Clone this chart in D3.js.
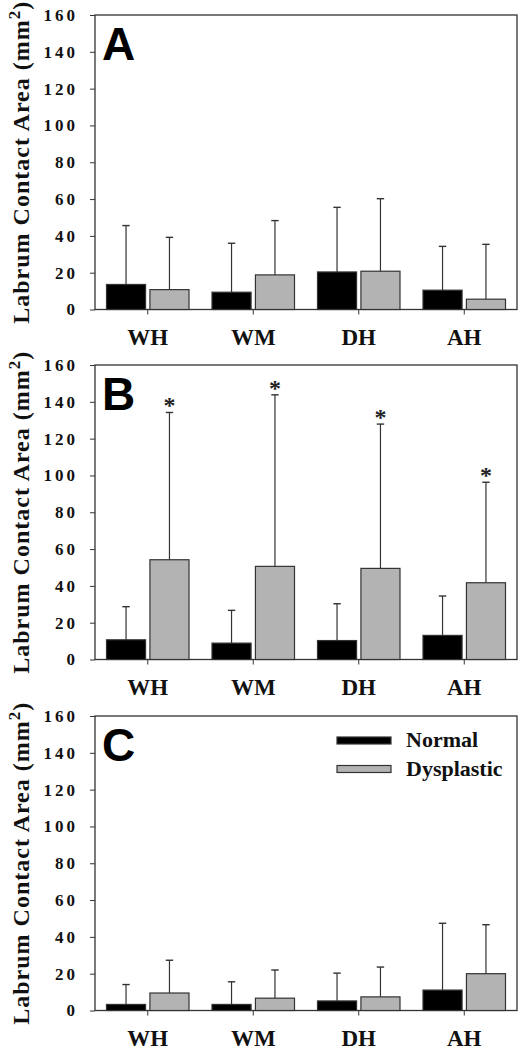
<!DOCTYPE html>
<html>
<head>
<meta charset="utf-8">
<script src="https://cdn.jsdelivr.net/npm/d3@7"></script>
<style>
  html, body { margin: 0; padding: 0; background: #fff; }
  svg { display: block; }
</style>
</head>
<body>
<svg id="chart" width="518" height="1050"></svg>
<script>
// ---- data ----
const categories = ["WH", "WM", "DH", "AH"];
const seriesNames = ["Normal", "Dysplastic"];
const panelLabels = ["A", "B", "C"];
const yTicks = [0, 20, 40, 60, 80, 100, 120, 140, 160];

// Panel A
const aNormalMean = [13.6, 9.4, 20.4, 10.5];
const aNormalSD   = [32.0, 26.6, 35.1, 23.8];
const aDysMean    = [10.8, 18.8, 20.8, 5.6];
const aDysSD      = [28.4, 29.5, 39.4, 29.8];
// Panel B
const bNormalMean = [10.7, 8.9, 10.3, 13.1];
const bNormalSD   = [18.0, 17.8, 20.0, 21.4];
const bDysMean    = [54.2, 50.6, 49.5, 41.7];
const bDysSD      = [80.0, 93.2, 78.4, 54.6];
// Panel C
const cNormalMean = [3.3, 3.3, 5.2, 11.1];
const cNormalSD   = [10.8, 12.3, 15.1, 36.3];
const cDysMean    = [9.5, 6.7, 7.4, 20.0];
const cDysSD      = [17.8, 15.3, 16.2, 26.6];

const bSignificant = [true, true, true, true];

const panels = [
  { label: panelLabels[0], normal: aNormalMean, normalSD: aNormalSD, dys: aDysMean, dysSD: aDysSD, sig: null, legend: false },
  { label: panelLabels[1], normal: bNormalMean, normalSD: bNormalSD, dys: bDysMean, dysSD: bDysSD, sig: bSignificant, legend: false },
  { label: panelLabels[2], normal: cNormalMean, normalSD: cNormalSD, dys: cDysMean, dysSD: cDysSD, sig: null, legend: true }
];

// ---- layout ----
const svg = d3.select("#chart");
const left = 95, right = 517;
const tops = [15, 365, 716];
const ph = 294.5;
const serif = "'Liberation Serif', 'Times New Roman', serif";
const sans = "'Liberation Sans', Arial, sans-serif";
const colors = { Normal: "#000000", Dysplastic: "#b3b3b3" };
const strokeCol = "#333333";

const x0 = d3.scaleBand().domain(categories).range([left, right]).padding(0);
const x1 = d3.scaleBand().domain(seriesNames).range([11.5, 94]).paddingInner(0.1);

panels.forEach((p, i) => {
  const top = tops[i];
  const bottom = top + ph;
  const y = d3.scaleLinear().domain([0, 160]).range([bottom, top]);
  const g = svg.append("g");

  // y axis
  const yAxis = g.append("g")
    .attr("transform", `translate(${left},0)`)
    .call(d3.axisLeft(y).tickValues(yTicks).tickSize(5).tickPadding(12));
  yAxis.attr("font-family", null);
  yAxis.select(".domain").remove();
  yAxis.selectAll(".tick line").attr("stroke", strokeCol);
  yAxis.selectAll(".tick text")
    .style("font-family", serif).style("font-weight", "bold")
    .style("font-size", "17px").style("letter-spacing", "3px")
    .attr("fill", "#111");

  // x axis
  const xAxis = g.append("g")
    .attr("transform", `translate(0,${bottom})`)
    .call(d3.axisBottom(x0).tickSize(5).tickPadding(14));
  xAxis.attr("font-family", null);
  xAxis.select(".domain").remove();
  xAxis.selectAll(".tick line").attr("stroke", strokeCol);
  xAxis.selectAll(".tick text")
    .style("font-family", serif).style("font-weight", "bold")
    .style("font-size", "23px").attr("fill", "#111");

  // frame
  g.append("rect")
    .attr("x", left).attr("y", top)
    .attr("width", right - left).attr("height", ph)
    .attr("fill", "none").attr("stroke", strokeCol).attr("stroke-width", 1.3);

  // bars
  const rows = [];
  categories.forEach((c, k) => {
    rows.push({ cat: c, s: "Normal", v: p.normal[k], sd: p.normalSD[k], sig: false });
    rows.push({ cat: c, s: "Dysplastic", v: p.dys[k], sd: p.dysSD[k], sig: p.sig ? p.sig[k] : false });
  });

  const bars = g.append("g");
  bars.selectAll("line.err").data(rows).join("line")
    .attr("class", "err")
    .attr("x1", d => x0(d.cat) + x1(d.s) + x1.bandwidth() / 2)
    .attr("x2", d => x0(d.cat) + x1(d.s) + x1.bandwidth() / 2)
    .attr("y1", d => y(d.v))
    .attr("y2", d => y(d.v + d.sd))
    .attr("stroke", strokeCol).attr("stroke-width", 1.2);
  bars.selectAll("line.cap").data(rows).join("line")
    .attr("class", "cap")
    .attr("x1", d => x0(d.cat) + x1(d.s) + x1.bandwidth() / 2 - 3.7)
    .attr("x2", d => x0(d.cat) + x1(d.s) + x1.bandwidth() / 2 + 3.7)
    .attr("y1", d => y(d.v + d.sd))
    .attr("y2", d => y(d.v + d.sd))
    .attr("stroke", strokeCol).attr("stroke-width", 1.4);
  bars.selectAll("rect").data(rows).join("rect")
    .attr("x", d => x0(d.cat) + x1(d.s))
    .attr("width", x1.bandwidth())
    .attr("y", d => y(d.v))
    .attr("height", d => y(0) - y(d.v))
    .attr("fill", d => colors[d.s])
    .attr("stroke", strokeCol).attr("stroke-width", 1.2);

  // significance asterisks
  bars.selectAll("text.sig").data(rows.filter(d => d.sig)).join("text")
    .attr("class", "sig")
    .attr("x", d => x0(d.cat) + x1(d.s) + x1.bandwidth() / 2)
    .attr("y", d => y(d.v + d.sd) + 1)
    .attr("text-anchor", "middle")
    .style("font-family", serif).style("font-weight", "bold")
    .style("font-size", "24px").attr("fill", "#222")
    .text("*");

  // panel letter
  g.append("text")
    .attr("x", left + 7).attr("y", top + 45)
    .style("font-family", sans).style("font-weight", "bold")
    .style("font-size", "46px").attr("fill", "#000")
    .text(p.label);

  // y title
  const yt = g.append("text")
    .attr("transform", `translate(29,${(top + bottom) / 2}) rotate(-90)`)
    .attr("text-anchor", "middle")
    .style("font-family", serif).style("font-weight", "bold")
    .style("font-size", "24px").style("letter-spacing", "1px")
    .attr("fill", "#111");
  yt.append("tspan").text("Labrum Contact Area (mm");
  yt.append("tspan").attr("baseline-shift", "super").style("font-size", "17px").text("2");
  yt.append("tspan").text(")");

  // legend
  if (p.legend) {
    const lg = g.append("g");
    seriesNames.forEach((s, k) => {
      const ly = top + 21 + k * 28.5;
      lg.append("rect")
        .attr("x", 337).attr("y", ly)
        .attr("width", 54).attr("height", 7)
        .attr("fill", colors[s]).attr("stroke", strokeCol).attr("stroke-width", 1.2);
      lg.append("text")
        .attr("x", 406).attr("y", ly + 10)
        .style("font-family", serif).style("font-weight", "bold")
        .style("font-size", "22px").attr("fill", "#111")
        .text(s);
    });
  }
});
</script>
</body>
</html>
